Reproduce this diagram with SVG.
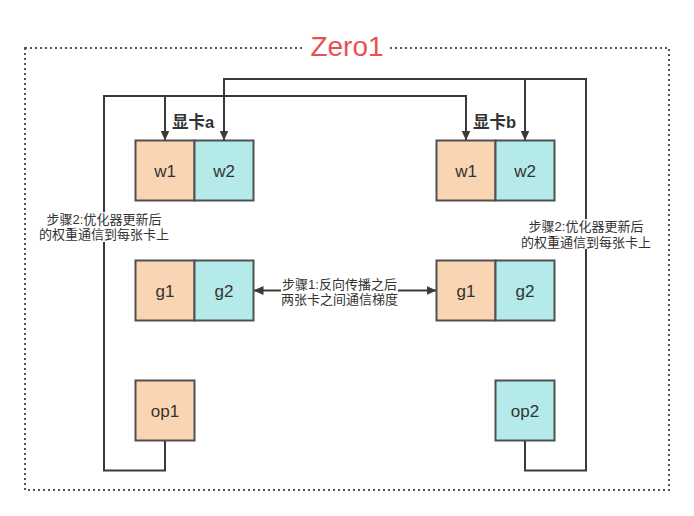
<svg xmlns="http://www.w3.org/2000/svg" width="694" height="516" viewBox="0 0 694 516">
<style>
.bx{stroke:#505050;stroke-width:2}
.o{fill:#F9D5B3}
.c{fill:#B5EAEA}
.t{font-family:"Liberation Sans","Noto Sans CJK SC",sans-serif;fill:#333;text-anchor:middle}
.bt{font-size:17px}
.lb{font-size:13px}
.hd{font-size:16.5px;font-weight:bold;text-anchor:start}
.ln{fill:none;stroke:#3a3a3a;stroke-width:2}
</style>
<defs>
<marker id="ar" markerUnits="userSpaceOnUse" markerWidth="10" markerHeight="10" refX="10" refY="5" orient="auto">
<path d="M0,0.5 L10,5 L0,9.5 Z" fill="#3a3a3a"/>
</marker>
<marker id="as" markerUnits="userSpaceOnUse" markerWidth="10" markerHeight="10" refX="0" refY="5" orient="auto">
<path d="M10,0.5 L0,5 L10,9.5 Z" fill="#3a3a3a"/>
</marker>
</defs>
<rect width="694" height="516" fill="#fff"/>
<g id="frame">
<rect x="25" y="48" width="644" height="442" fill="none" stroke="#555" stroke-width="2" stroke-dasharray="2 3"/>
<rect x="305" y="36" width="84" height="22" fill="#fff"/>
<text x="347" y="56" font-family="'Liberation Sans',sans-serif" font-size="28" fill="#EA5050" text-anchor="middle">Zero1</text>
</g>
<g id="connectors">
<path class="ln" d="M165,440.5 V470.5 H104 V96 H165 V140.5" marker-end="url(#ar)"/>
<path class="ln" d="M104,96 H466 V140.5" marker-end="url(#ar)"/>
<path class="ln" d="M525,440.5 V470.5 H586 V79 H525 V140.5" marker-end="url(#ar)"/>
<path class="ln" d="M586,79 H224 V140.5" marker-end="url(#ar)"/>
<path class="ln" d="M253.5,290.5 H436.5" marker-start="url(#as)" marker-end="url(#ar)"/>
</g>
<g id="label-a"><text x="172" y="127.5" class="t hd">显卡a</text></g>
<g id="label-b"><text x="473" y="127.5" class="t hd">显卡b</text></g>
<g id="w1a"><rect class="bx o" x="135.5" y="140.5" width="59" height="60"/><text class="t bt" x="165" y="176.5">w1</text></g>
<g id="w2a"><rect class="bx c" x="194.5" y="140.5" width="59" height="60"/><text class="t bt" x="224" y="176.5">w2</text></g>
<g id="w1b"><rect class="bx o" x="436.5" y="140.5" width="59" height="60"/><text class="t bt" x="466" y="176.5">w1</text></g>
<g id="w2b"><rect class="bx c" x="495.5" y="140.5" width="59" height="60"/><text class="t bt" x="525" y="176.5">w2</text></g>
<g id="g1a"><rect class="bx o" x="135.5" y="260.5" width="59" height="60"/><text class="t bt" x="165" y="296.5">g1</text></g>
<g id="g2a"><rect class="bx c" x="194.5" y="260.5" width="59" height="60"/><text class="t bt" x="224" y="296.5">g2</text></g>
<g id="g1b"><rect class="bx o" x="436.5" y="260.5" width="59" height="60"/><text class="t bt" x="466" y="296.5">g1</text></g>
<g id="g2b"><rect class="bx c" x="495.5" y="260.5" width="59" height="60"/><text class="t bt" x="525" y="296.5">g2</text></g>
<g id="op1"><rect class="bx o" x="135.5" y="380.5" width="59" height="60"/><text class="t bt" x="165" y="416.5">op1</text></g>
<g id="op2"><rect class="bx c" x="495.5" y="380.5" width="59" height="60"/><text class="t bt" x="525" y="416.5">op2</text></g>
<g id="label-step2-left">
<rect x="38" y="212" width="132" height="30" fill="#fff"/>
<text class="t lb" x="104" y="223.5">步骤2:优化器更新后</text>
<text class="t lb" x="104" y="239">的权重通信到每张卡上</text>
</g>
<g id="label-step2-right">
<rect x="520" y="219" width="132" height="30" fill="#fff"/>
<text class="t lb" x="586" y="231">步骤2:优化器更新后</text>
<text class="t lb" x="586" y="246.5">的权重通信到每张卡上</text>
</g>
<g id="label-step1">
<rect x="281" y="276" width="117" height="30" fill="#fff"/>
<text class="t lb" x="339.5" y="288.5">步骤1:反向传播之后</text>
<text class="t lb" x="339.5" y="304">两张卡之间通信梯度</text>
</g>
</svg>
